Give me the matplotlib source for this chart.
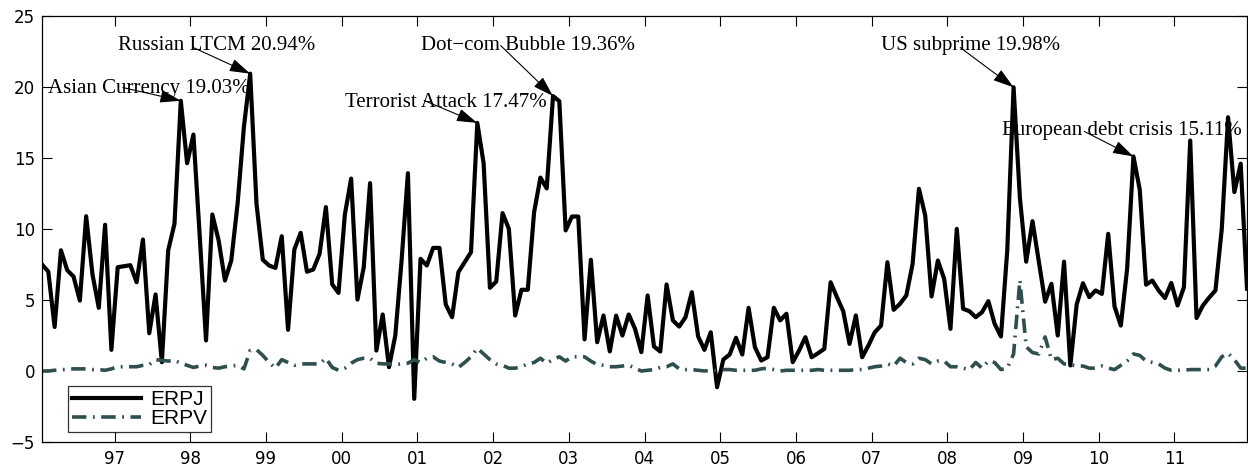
import numpy as np
import matplotlib
matplotlib.use('Agg')
import matplotlib.pyplot as plt

# monthly equity risk premium estimates, Jan 1996 - Dec 2011
erpj = [
    7.5, 7.0, 3.1, 8.5, 7.1, 6.65, 4.96, 10.9, 6.8, 4.45, 10.3, 1.49,
    7.31, 7.38, 7.45, 6.25, 9.26, 2.66, 5.39, 0.62, 8.49, 10.37, 19.03, 14.63,
    16.65, 9.5, 2.15, 11.02, 9.19, 6.37, 7.78, 11.77, 17.17, 20.94, 11.77, 7.83,
    7.43, 7.26, 9.49, 2.9, 8.56, 9.73, 6.99, 7.15, 8.25, 11.54, 6.1, 5.5,
    11.0, 13.55, 5.03, 7.31, 13.23, 1.44, 3.98, 0.27, 2.5, 7.8, 13.93, -1.96,
    7.9, 7.43, 8.67, 8.67, 4.68, 3.79, 6.96, 7.66, 8.37, 17.47, 14.63, 5.86,
    6.3, 11.12, 10.01, 3.91, 5.72, 5.72, 11.18, 13.62, 12.86, 19.36, 19.0, 9.9,
    10.88, 10.88, 2.23, 7.83, 2.03, 3.91, 1.38, 3.9, 2.5, 3.98, 2.97, 1.33,
    5.32, 1.73, 1.37, 6.09, 3.56, 3.13, 3.79, 5.55, 2.43, 1.49, 2.73, -1.14,
    0.81, 1.16, 2.34, 1.16, 4.45, 1.68, 0.74, 0.97, 4.45, 3.56, 4.03, 0.62,
    1.44, 2.38, 0.97, 1.25, 1.56, 6.25, 5.2, 4.21, 1.91, 3.91, 0.97, 1.8,
    2.73, 3.2, 7.66, 4.31, 4.73, 5.32, 7.55, 12.83, 10.95, 5.25, 7.78, 6.49,
    2.97, 10.01, 4.38, 4.21, 3.79, 4.14, 4.92, 3.32, 2.43, 8.5, 19.98, 12.2,
    7.7, 10.55, 7.7, 4.88, 6.14, 2.5, 7.7, 0.39, 4.68, 6.18, 5.2, 5.67,
    5.43, 9.66, 4.55, 3.2, 7.2, 15.11, 12.77, 6.08, 6.37, 5.67, 5.14, 6.2,
    4.61, 5.9, 16.23, 3.73, 4.61, 5.17, 5.67, 10.0, 17.87, 12.6, 14.6, 5.8,
]
erpv = [
    0.0, 0.0, 0.05, 0.1, 0.1, 0.15, 0.15, 0.15, 0.1, 0.1, 0.05, 0.15,
    0.3, 0.3, 0.3, 0.3, 0.4, 0.45, 0.8, 0.75, 0.7, 0.75, 0.55, 0.4,
    0.25, 0.35, 0.4, 0.25, 0.2, 0.3, 0.35, 0.4, 0.15, 1.45, 1.5, 1.1,
    0.6, 0.2, 0.8, 0.6, 0.4, 0.5, 0.5, 0.5, 0.5, 0.9, 0.25, 0.05,
    0.2, 0.55, 0.8, 0.9, 0.9, 0.55, 0.5, 0.5, 0.45, 0.5, 0.55, 0.8,
    0.6, 0.9, 1.0, 0.7, 0.6, 0.5, 0.25, 0.6, 1.0, 1.6, 1.2, 0.8,
    0.5, 0.4, 0.2, 0.2, 0.3, 0.5, 0.6, 0.9, 0.55, 0.8, 1.0, 0.7,
    1.0, 1.0, 1.0, 0.7, 0.45, 0.4, 0.3, 0.3, 0.35, 0.4, 0.2, 0.0,
    0.05, 0.1, 0.25, 0.3, 0.5, 0.15, 0.1, 0.1, 0.05, 0.0, 0.05, 0.05,
    0.1, 0.1, 0.05, 0.05, 0.05, 0.05, 0.15, 0.2, 0.1, 0.0, 0.05, 0.05,
    0.05, 0.05, 0.05, 0.1, 0.05, 0.05, 0.05, 0.05, 0.05, 0.1, 0.1, 0.2,
    0.3, 0.35, 0.5, 0.35, 0.9, 0.6, 0.5, 0.9, 0.8, 0.5, 0.7, 0.7,
    0.3, 0.3, 0.2, 0.1, 0.6, 0.2, 0.7, 0.6, 0.1, 0.2, 1.2, 6.4,
    1.7, 1.3, 1.2, 2.4, 0.8, 0.9, 0.5, 0.45, 0.35, 0.35, 0.2, 0.2,
    0.35, 0.2, 0.1, 0.4, 0.7, 1.2, 1.1, 0.7, 0.6, 0.5, 0.2, 0.05,
    0.05, 0.05, 0.1, 0.1, 0.1, 0.1, 0.35, 1.0, 1.25, 0.8, 0.2, 0.2,
]
year_ticks = list(range(1997, 2012))
year_labels = ['%02d' % (y % 100) for y in year_ticks]

# crisis labels: month index of the peak, text anchor, arrow tail
events = [
    ('Asian Currency', 22, (1996.12, 19.9), (1997.11, 19.96)),
    ('Russian LTCM', 33, (1997.05, 22.92), (1998.04, 22.78)),
    ('Terrorist Attack', 69, (2000.05, 18.9), (2001.09, 19.05)),
    ('Dot\u2212com Bubble', 81, (2001.05, 22.92), (2002.10, 22.92)),
    ('US subprime', 154, (2007.13, 22.92), (2008.17, 22.78)),
    ('European debt crisis', 173, (2008.72, 16.94), (2009.81, 16.87)),
]

x = 1996 + (np.arange(len(erpj)) + 0.5) / 12.0

fig = plt.figure(figsize=(12.48, 4.66), dpi=100)
ax = fig.add_axes([42 / 1248, 24 / 466, 1205 / 1248, 426 / 466])

ax.plot(x, erpj, color='black', lw=3.0, label='ERPJ')
ax.plot(x, erpv, color='#2f4f4f', lw=2.6, linestyle=(0, (4, 1.8, 0.5, 1.8)), label='ERPV')

for name, idx, txt, tail in events:
    ax.annotate('', xy=(x[idx], erpj[idx]), xytext=tail,
                arrowprops=dict(arrowstyle='-|>,head_length=0.8,head_width=0.25',
                                color='black', lw=0.8, mutation_scale=16,
                                shrinkA=0, shrinkB=0))
    ax.text(txt[0], txt[1], '%s %.2f%%' % (name, erpj[idx]),
            family='Liberation Serif', fontsize=15, va='center', ha='left')

ax.set_xlim(x[0], x[-1])
ax.set_ylim(-5, 25)
ax.set_yticks(range(-5, 26, 5))
ax.set_xticks(year_ticks)
ax.set_xticklabels(year_labels)
ax.tick_params(direction='in', top=True, right=True, length=7, width=0.8,
               labelsize=12)
ax.tick_params(axis='x', pad=6)
ax.tick_params(axis='y', pad=5)
for s in ax.spines.values():
    s.set_linewidth(0.9)

leg = ax.legend(loc='lower left', bbox_to_anchor=(0.0216, 0.0235),
                borderaxespad=0, fancybox=False, edgecolor='black',
                prop={'family': 'Liberation Sans', 'size': 15},
                handlelength=3.3, handletextpad=0.45, borderpad=0.2,
                labelspacing=0.0)
leg.get_frame().set_linewidth(0.9)

plt.savefig('out.png', dpi=100)
